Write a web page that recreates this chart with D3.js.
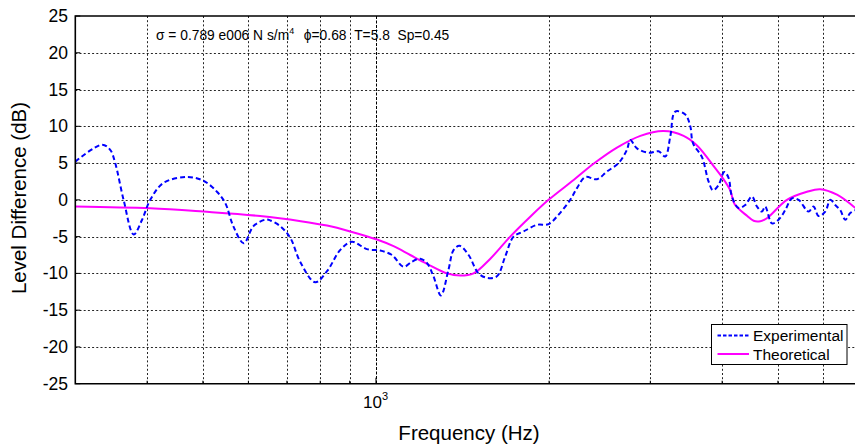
<!DOCTYPE html>
<meta charset="utf-8">
<head>
    <script src="https://d3js.org/d3.v7.min.js"></script>
    <style>
        body { margin: 0; background: #fff; }
        text { font-family: "Liberation Sans", Arial, Helvetica, sans-serif; }
    </style>
</head>
<html>
    <body>
        <div id="chart"></div>
    </body>
</html>
<script>
    // data: frequency (Hz), level difference (dB)
    const expFreq = [300, 334, 345, 352, 364, 379, 392, 405, 427, 469, 501, 529, 547, 565, 589, 612, 642, 655, 682, 710,
      738, 784, 822, 867, 908, 964, 1017, 1066, 1117, 1155, 1194, 1227, 1259, 1297, 1337, 1365, 1398, 1449, 1508, 1560,
      1623, 1678, 1735, 1806, 1905, 1996, 2078, 2177, 2237, 2312, 2423, 2522, 2642, 2732, 2769, 2844, 2980, 3101, 3185, 3250,
      3315, 3451, 3521, 3559, 3690, 3788, 3856, 3943, 4034, 4104, 4160, 4272, 4388, 4507, 4598, 4691, 4753, 4883, 5014, 5150,
      5290, 5433, 5653, 5768, 5884, 6045, 6168, 6292, 6420, 6550, 6682, 6818]
    const expLevel = [5.2, 7.5, 6.8, 5.0, 0, -4.7, -2.7, 0, 2.3, 3.1, 2.6, 1.1, -0.45, -3.6, -5.9, -3.6, -2.7, -2.8, -3.6, -5.2,
      -8.4, -11.2, -9.7, -6.8, -5.7, -6.7, -6.9, -7.5, -9.1, -8.4, -8.0, -8.6, -10.4, -13.0, -9.5, -6.8, -6.25, -7.5, -10.0, -10.6,
      -10.4, -7.7, -5.0, -4.3, -3.4, -3.3, -2.0, 0, 1.6, 3.1, 2.8, 3.85, 5.0, 6.8, 8.15, 7.0, 6.4, 6.6, 5.9, 8.6,
      12.0, 11.6, 10.0, 7.7, 5.8, 2.5, 1.3, 2.0, 3.8, 3.0, 0.45, -1.1, -0.7, 0.45, -0.9, -1.6, -0.9, -3.2, -2.7, -1.4,
      0.2, 0, -1.6, -0.9, -2.2, -1.6, 0, -0.7, -1.4, -2.7, -1.8, -1.4]

    const theoFreq = [300, 405, 501, 629, 740, 822, 902, 1004, 1073, 1147, 1227, 1329, 1401, 1478, 1581, 1712, 1855, 1996,
      2207, 2390, 2625, 2883, 3164, 3428, 3617, 3866, 3997, 4132, 4206, 4424, 4537, 4660, 4786, 5185, 5618, 5925, 6336, 6818]
    const theoLevel = [-0.9, -1.15, -1.6, -2.2, -2.9, -3.5, -4.3, -5.4, -6.3, -7.5, -8.7, -10.0, -10.3, -10.0, -8.0, -5.0, -2.3, 0,
      2.7, 4.9, 7.1, 8.7, 9.35, 8.7, 7.4, 4.6, 3.1, 1.3, -0.6, -2.2, -2.85, -2.9, -2.5, 0, 1.1, 1.45, 0.7, -1.1]

    const yTicks = [-25, -20, -15, -10, -5, 0, 5, 10, 15, 20, 25]
    const xGrid = [400, 500, 600, 700, 800, 900, 1000, 2000, 3000, 4000, 5000, 6000, 7000]
    const seriesNames = ["Experimental", "Theoretical"]
    const note = "σ = 0.789 e006 N s/m"

    const W = 855, H = 444
    const pLeft = 75.3, pTop = 16, pBottom = 383.7
    const pxPerDecade = 575

    const svg = d3.select("#chart").append("svg")
      .attr("width", W).attr("height", H)

    const x = d3.scaleLog()
      .domain([300, 7000])
      .range([pLeft, pLeft + pxPerDecade * Math.log10(7000 / 300)])
    const y = d3.scaleLinear().domain([-25, 25]).range([pBottom, pTop])

    svg.append("clipPath").attr("id", "clip")
      .append("rect").attr("x", pLeft).attr("y", pTop).attr("width", W - pLeft).attr("height", pBottom - pTop)

    // grid
    const grid = svg.append("g").attr("stroke", "#000").attr("stroke-width", 1).attr("stroke-dasharray", "2,2.2")
    grid.selectAll("line.h").data(yTicks.slice(1, -1)).join("line")
      .attr("x1", pLeft).attr("x2", W)
      .attr("y1", d => Math.round(y(d)) + 0.5).attr("y2", d => Math.round(y(d)) + 0.5)
      .attr("opacity", 0.85)
    grid.selectAll("line.v").data(xGrid.filter(d => x(d) < W)).join("line")
      .attr("x1", d => Math.round(x(d)) + 0.5).attr("x2", d => Math.round(x(d)) + 0.5)
      .attr("y1", pTop).attr("y2", pBottom)
      .attr("opacity", d => d === 1000 ? 1 : 0.85)
      .attr("stroke-dasharray", d => d === 1000 ? "3,1.5" : null)

    // inward ticks
    const ticks = svg.append("g").attr("stroke", "#000").attr("stroke-width", 1)
    ticks.selectAll("line.yt").data(yTicks).join("line")
      .attr("x1", pLeft).attr("x2", pLeft + 5)
      .attr("y1", d => y(d)).attr("y2", d => y(d))
    ticks.selectAll("line.xt").data(xGrid.filter(d => x(d) < W)).join("line")
      .attr("x1", d => x(d)).attr("x2", d => x(d))
      .attr("y1", pBottom).attr("y2", d => pBottom - (d === 1000 ? 6 : 3))

    // lines
    const plot = svg.append("g").attr("clip-path", "url(#clip)")
    const line = d3.line()
      .x(d => x(d[0])).y(d => y(d[1]))
      .curve(d3.curveCatmullRom.alpha(0.5))

    plot.append("path")
      .datum(theoFreq.map((f, i) => [f, theoLevel[i]]))
      .attr("d", line)
      .attr("fill", "none").attr("stroke", "#ff00ff").attr("stroke-width", 2)

    plot.append("path")
      .datum(expFreq.map((f, i) => [f, expLevel[i]]))
      .attr("d", line)
      .attr("fill", "none").attr("stroke", "#0000ff").attr("stroke-width", 2)
      .attr("stroke-dasharray", "5,3")

    // axis box (right edge is outside the picture)
    svg.append("path")
      .attr("d", `M${W},${pTop}H${pLeft}V${pBottom}H${W}`)
      .attr("fill", "none").attr("stroke", "#000").attr("stroke-width", 1.6)

    // y labels
    svg.selectAll("text.yl").data(yTicks).join("text")
      .attr("x", 68).attr("y", d => y(d) + 6)
      .attr("text-anchor", "end").attr("font-size", 17.5)
      .text(d => d)

    // x tick label 10^3
    const xl = svg.append("text").attr("x", x(1000) - 13).attr("y", 408).attr("font-size", 17)
    xl.append("tspan").text("10")
    xl.append("tspan").attr("dy", -8).attr("font-size", 11).text("3")

    svg.append("text")
      .attr("x", 469).attr("y", 440)
      .attr("text-anchor", "middle").attr("font-size", 20.5)
      .text("Frequency (Hz)")

    svg.append("text")
      .attr("transform", `translate(26,198) rotate(-90)`)
      .attr("text-anchor", "middle").attr("font-size", 20.5)
      .text("Level Difference (dB)")

    // annotation
    const t = svg.append("text").attr("x", 156).attr("y", 40).attr("font-size", 13.8)
      .style("white-space", "pre")
    t.append("tspan").text(note)
    t.append("tspan").attr("dy", -6).attr("font-size", 9).text("4")
    t.append("tspan").attr("dy", 6).attr("dx", 2).text("  ϕ=0.68  T=5.8  Sp=0.45")

    // legend
    const lg = svg.append("g").attr("transform", "translate(711.5,324.5)")
    lg.append("rect").attr("width", 135.5).attr("height", 40)
      .attr("fill", "#fff").attr("stroke", "#000").attr("stroke-width", 1)
    const colors = ["#0000ff", "#ff00ff"]
    seriesNames.forEach((name, i) => {
      const yy = 11 + i * 18.5
      lg.append("line").attr("x1", 6).attr("x2", 37.5).attr("y1", yy).attr("y2", yy)
        .attr("stroke", colors[i]).attr("stroke-width", 2)
        .attr("stroke-dasharray", i === 0 ? "3.5,2" : null)
      lg.append("text").attr("x", 41.5).attr("y", yy + 5.5).attr("font-size", 15.5).text(name)
    })
</script>
